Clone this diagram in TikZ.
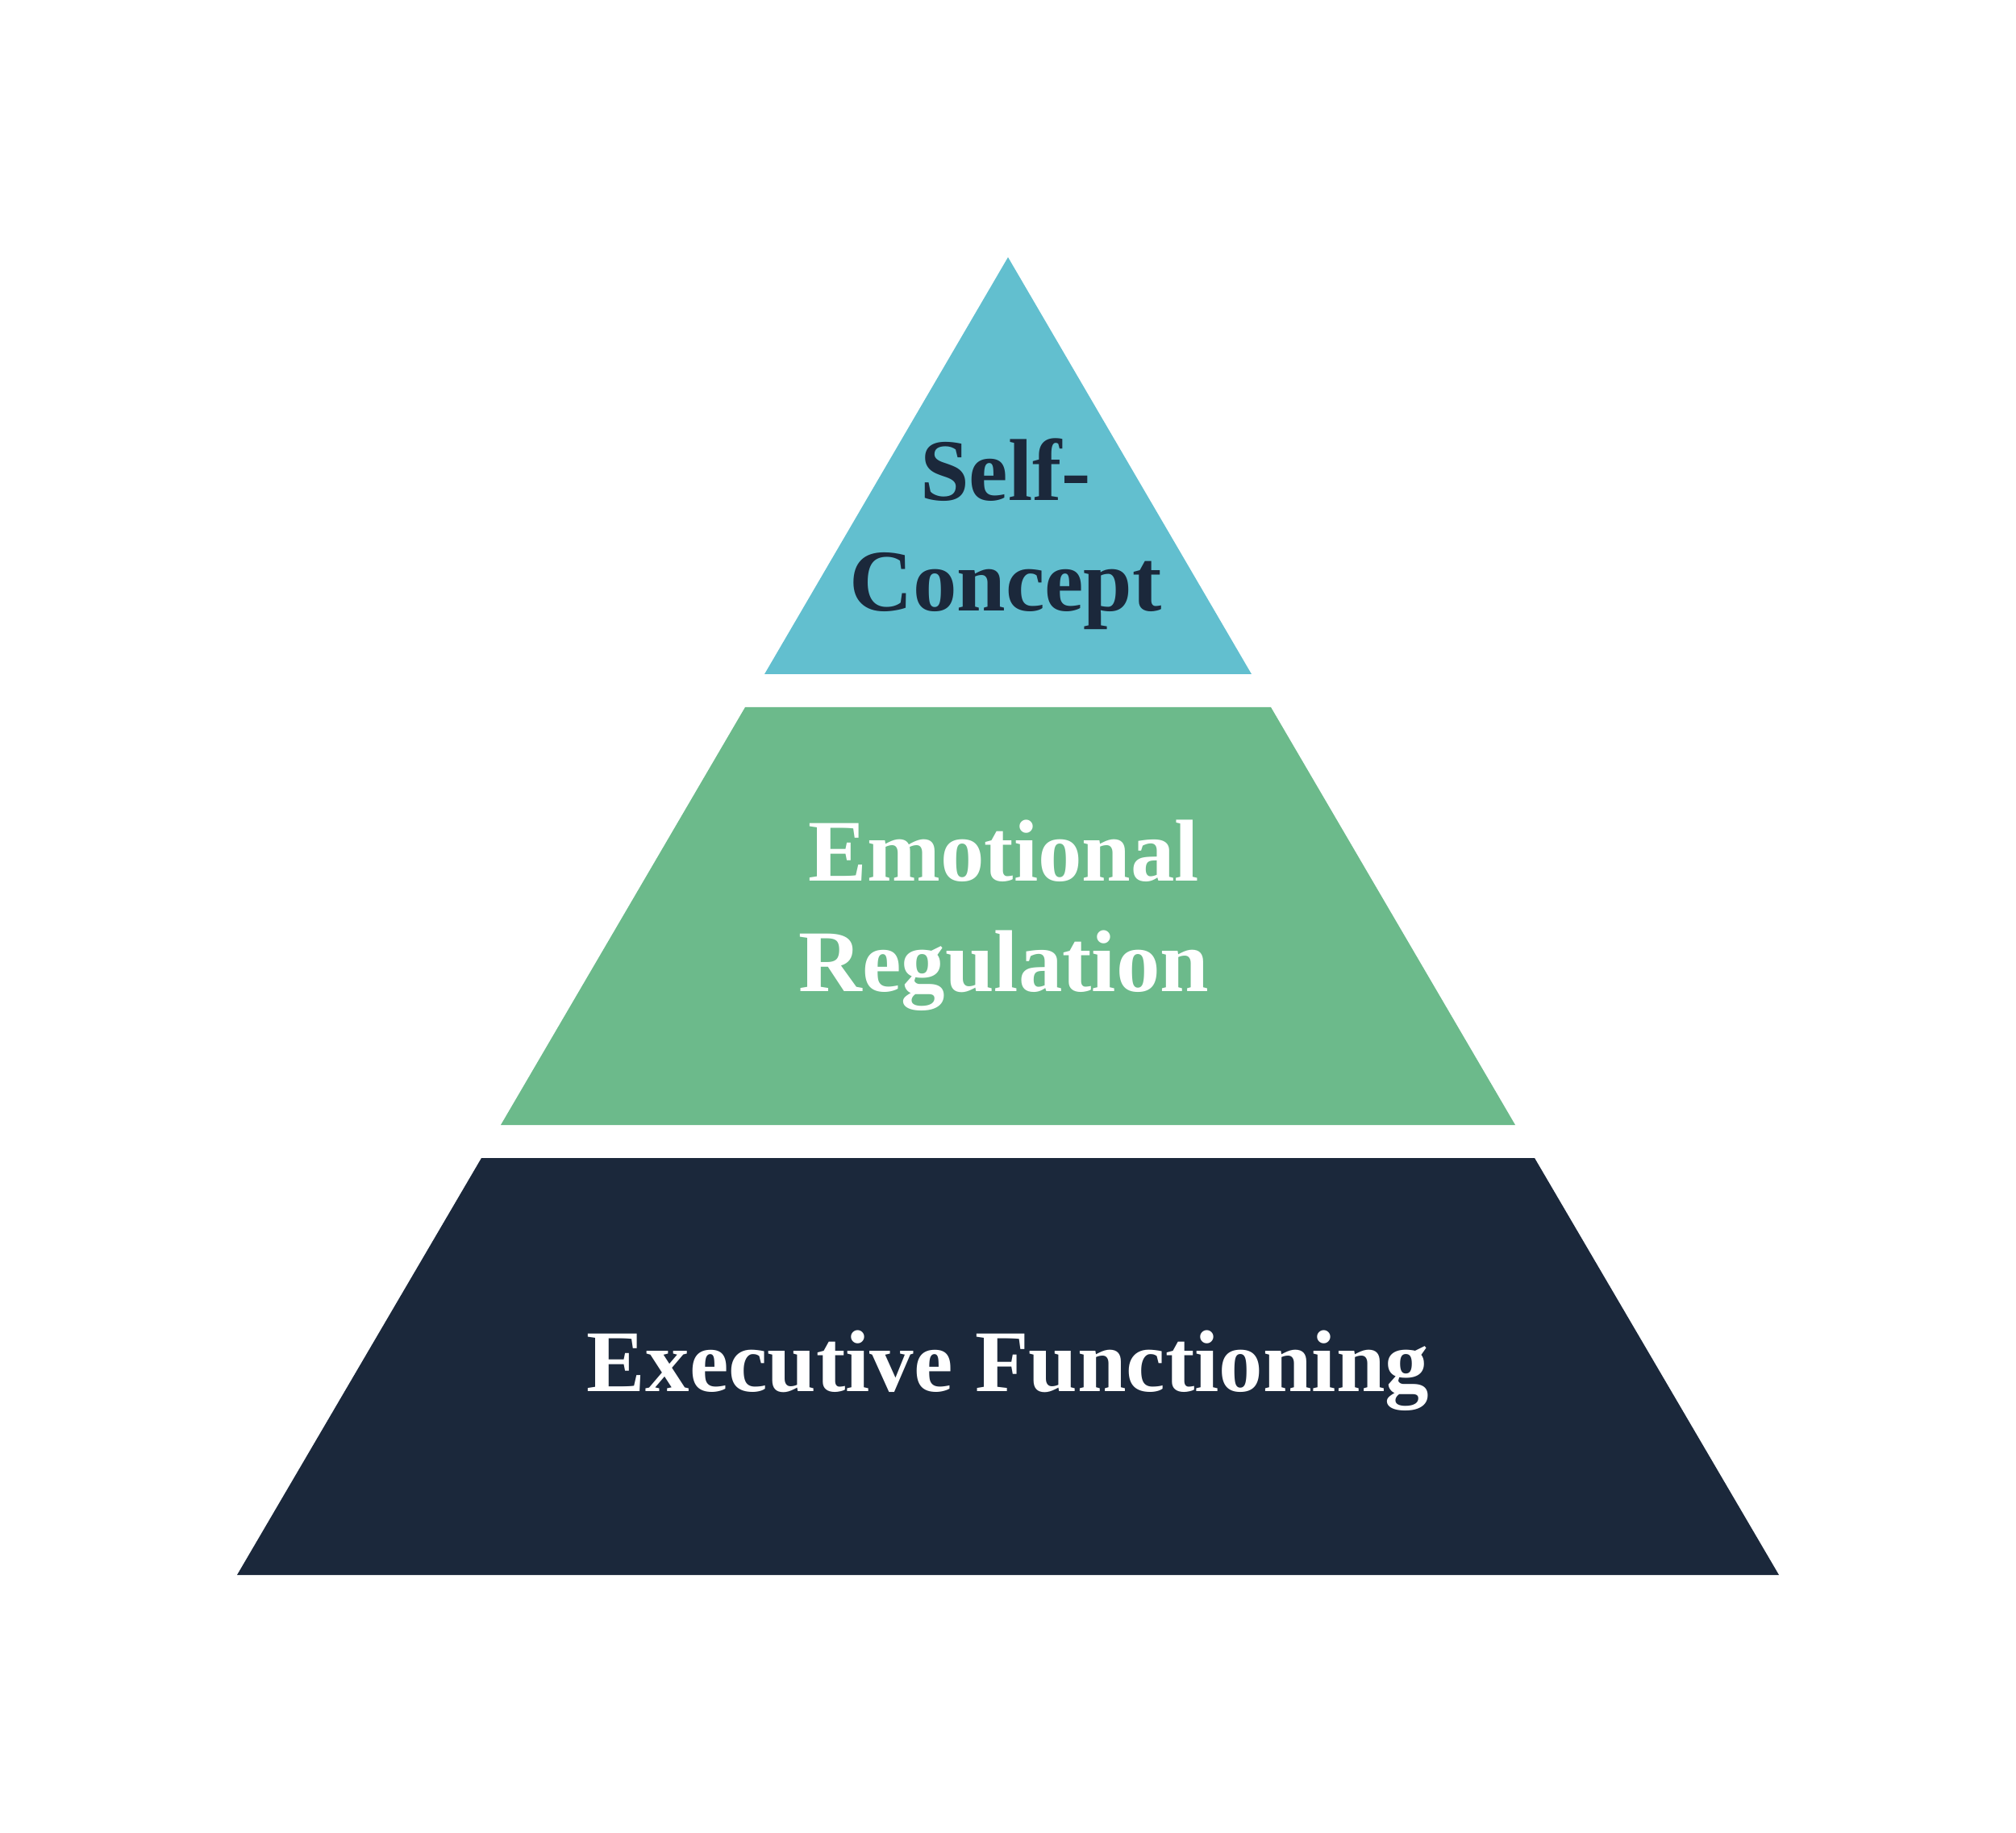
\documentclass[tikz,border=0pt]{standalone}
\usepackage{fontspec}
\setmainfont{Liberation Serif}
\usepackage{xcolor}
\usetikzlibrary{calc}

\definecolor{topblue}{HTML}{62BFCF}
\definecolor{midgreen}{HTML}{6CBA8B}
\definecolor{basenavy}{HTML}{1B283B}

\tikzset{
  tierlabel/.style={align=center, inner sep=0pt,
    font=\bfseries\fontsize{31}{39}\selectfont}
}

\begin{document}
\begin{tikzpicture}
    % Canvas
    \useasboundingbox (0,0) rectangle (25,-22.73);

    % Top tier (triangle)
    \coordinate (T) at (12.50,-3.19);
    \coordinate (TL) at (9.48,-8.36);
    \coordinate (TR) at (15.52,-8.36);
    \fill[topblue] (T) -- (TR) -- (TL) -- cycle;

    % Middle tier
    \coordinate (ML1) at (9.24,-8.77);
    \coordinate (MR1) at (15.76,-8.77);
    \coordinate (ML2) at (6.21,-13.95);
    \coordinate (MR2) at (18.79,-13.95);
    \fill[midgreen] (ML1) -- (MR1) -- (MR2) -- (ML2) -- cycle;

    % Bottom tier
    \coordinate (BL1) at (5.97,-14.36);
    \coordinate (BR1) at (19.03,-14.36);
    \coordinate (BL2) at (2.94,-19.53);
    \coordinate (BR2) at (22.06,-19.53);
    \fill[basenavy] (BL1) -- (BR1) -- (BR2) -- (BL2) -- cycle;

    % Labels
    \node[tierlabel, basenavy] (self) at (12.47,-6.62) {Self-\\Concept};
    \node[tierlabel, white] (emo) at (12.45,-11.35) {Emotional\\Regulation};
    \node[tierlabel, white, anchor=base] (exec) at (12.50,-17.25) {Executive Functioning};
\end{tikzpicture}
\end{document}
